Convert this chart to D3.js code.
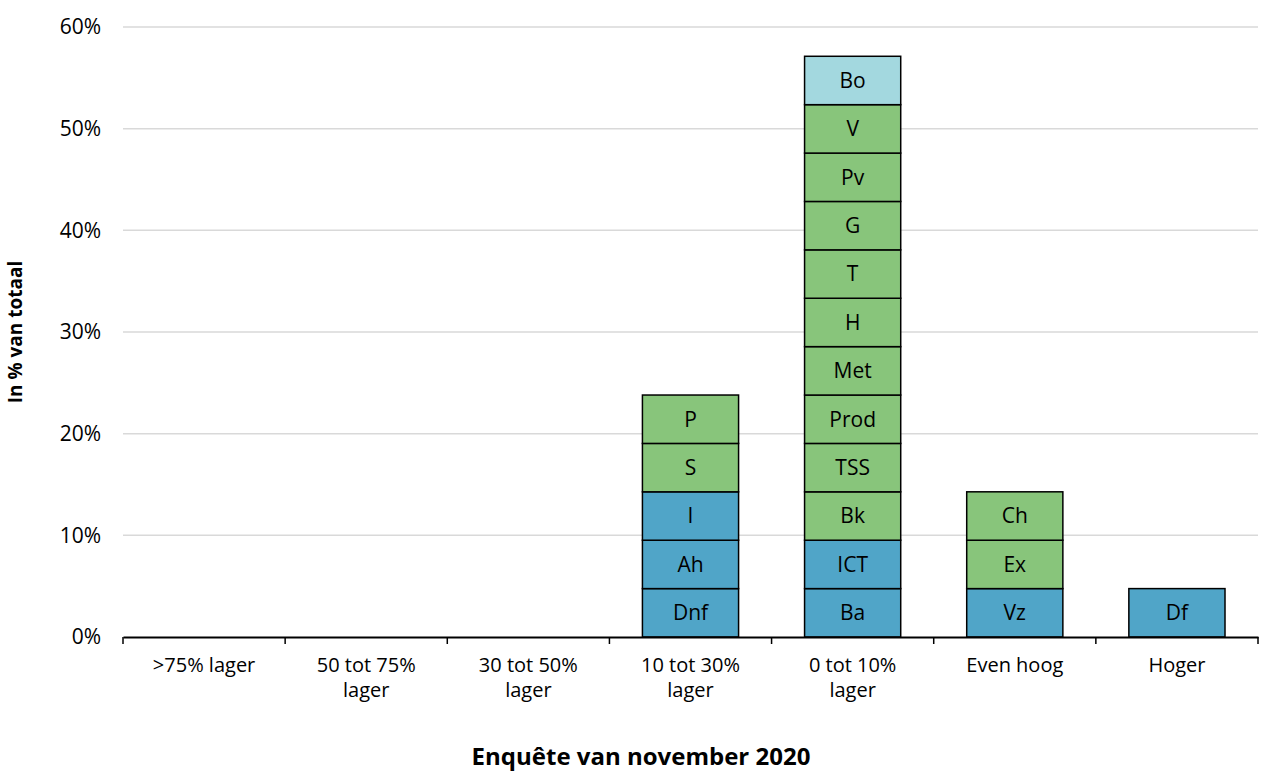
<!DOCTYPE html>
<html>
<head>
<meta charset="utf-8">
<script src="https://cdn.jsdelivr.net/npm/d3@7"></script>
<style>
  body { margin: 0; background: #fff; }
  text { font-family: "Open Sans", "Noto Sans", sans-serif; fill: #000; }
</style>
</head>
<body>
<script>
const categories = [">75% lager", "50 tot 75% lager", "30 tot 50% lager", "10 tot 30% lager", "0 tot 10% lager", "Even hoog", "Hoger"];
const sectors = ["Dnf", "Ah", "I", "S", "P",
                 "Ba", "ICT", "Bk", "TSS", "Prod", "Met", "H", "T", "G", "Pv", "V", "Bo",
                 "Vz", "Ex", "Ch",
                 "Df"];
const sectorCategory = ["10 tot 30% lager", "10 tot 30% lager", "10 tot 30% lager", "10 tot 30% lager", "10 tot 30% lager",
                        "0 tot 10% lager", "0 tot 10% lager", "0 tot 10% lager", "0 tot 10% lager", "0 tot 10% lager", "0 tot 10% lager",
                        "0 tot 10% lager", "0 tot 10% lager", "0 tot 10% lager", "0 tot 10% lager", "0 tot 10% lager", "0 tot 10% lager",
                        "Even hoog", "Even hoog", "Even hoog",
                        "Hoger"];
const sectorGroup = ["a", "a", "a", "b", "b",
                     "a", "a", "b", "b", "b", "b", "b", "b", "b", "b", "b", "c",
                     "a", "b", "b",
                     "a"];
const sectorShare = [4.76, 4.76, 4.76, 4.76, 4.76,
                     4.76, 4.76, 4.76, 4.76, 4.76, 4.76, 4.76, 4.76, 4.76, 4.76, 4.76, 4.76,
                     4.76, 4.76, 4.76,
                     4.76];
const yTicks = [0, 10, 20, 30, 40, 50, 60];

const colors = {a: "#50a5c8", b: "#88c57b", c: "#a3d8df"};

var w = 1263, h = 774;
var margin = {left: 123, right: 5, top: 27, bottom: 137};
var fs = "21px";

const svg = d3.select("body").append("svg")
  .attr("width", w).attr("height", h);

const xScale = d3.scaleBand()
  .domain(categories)
  .range([margin.left, w - margin.right])
  .paddingInner(0.407)
  .paddingOuter(0.2035);
const xTicks = d3.scaleBand().domain(categories).range([margin.left, w - margin.right]);

const yScale = d3.scaleLinear()
  .domain([0, 60])
  .range([h - margin.bottom, margin.top]);

// grid
svg.append("g")
  .selectAll("line")
  .data(yTicks.slice(1))
  .enter().append("line")
  .attr("x1", margin.left).attr("x2", w - margin.right)
  .attr("y1", d => yScale(d)).attr("y2", d => yScale(d))
  .attr("stroke", "#d9d9d9").attr("stroke-width", 1.5);

// y axis labels
const yAxis = svg.append("g")
  .attr("transform", "translate(" + margin.left + ",0)")
  .call(d3.axisLeft(yScale).tickValues(yTicks).tickFormat(d => d + "%").tickSize(0).tickPadding(22));
yAxis.select(".domain").remove();
yAxis.selectAll("text").style("font-size", fs);

// stack segments
const stacked = [];
const heights = {};
sectors.forEach((s, i) => {
  const c = sectorCategory[i];
  const y0 = heights[c] || 0;
  heights[c] = y0 + sectorShare[i];
  stacked.push({name: s, cat: c, group: sectorGroup[i], y0: y0, y1: y0 + sectorShare[i]});
});

const seg = svg.append("g").selectAll("g")
  .data(stacked)
  .enter().append("g");
seg.append("rect")
  .attr("x", d => xScale(d.cat))
  .attr("width", xScale.bandwidth())
  .attr("y", d => yScale(d.y1))
  .attr("height", d => yScale(d.y0) - yScale(d.y1))
  .attr("fill", d => colors[d.group])
  .attr("stroke", "#000")
  .attr("stroke-width", 1.5);
seg.append("text")
  .attr("x", d => xScale(d.cat) + xScale.bandwidth() / 2)
  .attr("y", d => (yScale(d.y0) + yScale(d.y1)) / 2)
  .attr("text-anchor", "middle")
  .attr("dy", "0.35em")
  .style("font-size", fs)
  .text(d => d.name);

// x axis
const xAxis = svg.append("g")
  .attr("transform", "translate(0," + (h - margin.bottom) + ")")
  .call(d3.axisBottom(xTicks).tickSize(0).tickPadding(21));
xAxis.select(".domain").attr("stroke", "#000").attr("stroke-width", 2);
xAxis.selectAll("text").style("font-size", "20px").call(wrap, 130);
// tick marks at band edges
xAxis.selectAll(".edge")
  .data(categories.concat(["end"]))
  .enter().append("line")
  .attr("x1", (d, i) => margin.left + i * xTicks.bandwidth())
  .attr("x2", (d, i) => margin.left + i * xTicks.bandwidth())
  .attr("y1", 0).attr("y2", 7)
  .attr("stroke", "#000").attr("stroke-width", 1.5);

function wrap(text, width) {
  text.each(function() {
    var t = d3.select(this);
    var words = t.text().split(/\s+/);
    var y = t.attr("y"), dy = parseFloat(t.attr("dy"));
    var line = [];
    var lineNo = 0;
    var tspan = t.text(null).append("tspan").attr("x", 0).attr("y", y).attr("dy", dy + "em");
    words.forEach(word => {
      line.push(word);
      tspan.text(line.join(" "));
      if (tspan.node().getComputedTextLength() > width && line.length > 1) {
        line.pop();
        tspan.text(line.join(" "));
        line = [word];
        tspan = t.append("tspan").attr("x", 0).attr("y", y)
          .attr("dy", (++lineNo * 1.25 + dy) + "em").text(word);
      }
    });
  });
}

// titles
svg.append("text")
  .attr("transform", "translate(22," + ((margin.top + h - margin.bottom) / 2) + ") rotate(-90)")
  .attr("text-anchor", "middle")
  .style("font-size", "19px").style("font-weight", "bold")
  .text("In % van totaal");
svg.append("text")
  .attr("x", 641).attr("y", 765)
  .attr("text-anchor", "middle")
  .style("font-size", "24px").style("font-weight", "bold")
  .text("Enquête van november 2020");
</script>
</body>
</html>
